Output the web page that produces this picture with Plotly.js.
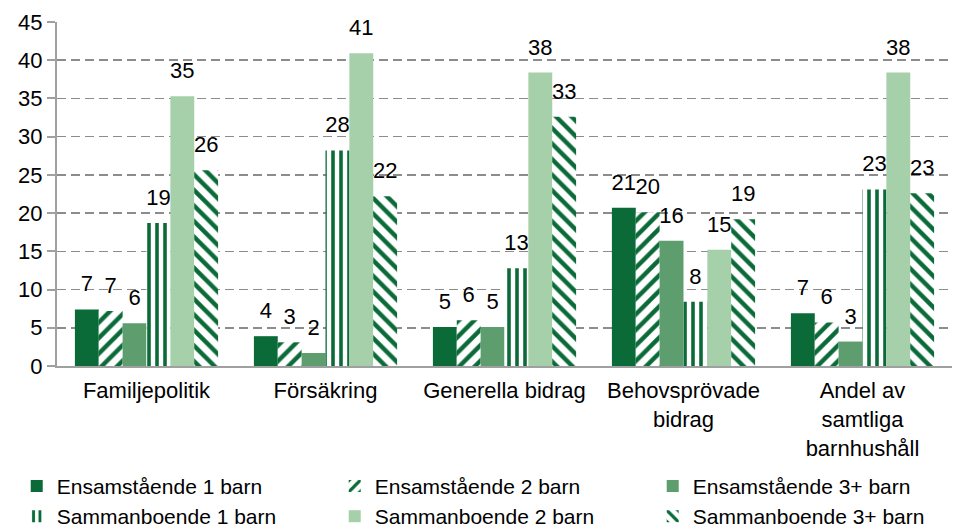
<!DOCTYPE html>
<html>
<head>
<meta charset="utf-8">
<script src="https://cdn.plot.ly/plotly-3.0.1.min.js"></script>
<style>html,body{margin:0;padding:0;background:#fff;}#chart{width:967px;height:531px;}</style>
</head>
<body>
<div id="chart"></div>
<script>
// ---- data ----
var categories = ['Familjepolitik', 'Försäkring', 'Generella bidrag', 'Behovsprövade<br>bidrag', 'Andel av<br>samtliga<br>barnhushåll'];
var seriesNames = ['Ensamstående 1 barn', 'Ensamstående 2 barn', 'Ensamstående 3+ barn', 'Sammanboende 1 barn', 'Sammanboende 2 barn', 'Sammanboende 3+ barn'];
var ensam1 = [7.4, 3.9, 5.1, 20.7, 6.9];
var ensam2 = [7.2, 3.1, 6.0, 20.1, 5.7];
var ensam3 = [5.6, 1.7, 5.1, 16.4, 3.2];
var samman1 = [18.7, 28.2, 12.8, 8.4, 23.1];
var samman2 = [35.3, 40.9, 38.4, 15.2, 38.4];
var samman3 = [25.6, 22.2, 32.6, 19.2, 22.6];
var yTicks = [0, 5, 10, 15, 20, 25, 30, 35, 40, 45];

// ---- styles ----
var DARK = '#0b6b38', MID = '#5e9e6e', LIGHT = '#a5d0aa';
var styles = [
  {color: DARK, shape: ''},
  {color: '#ffffff', shape: '/'},
  {color: MID, shape: ''},
  {color: '#ffffff', shape: '|'},
  {color: LIGHT, shape: ''},
  {color: '#ffffff', shape: '\\'}
];
var FONT = 'Liberation Sans, Arial, sans-serif';
var FS = 22;
var LEG_FS = 21;
var LABEL_PAD = 1.3; // gap (data units) between bar top and its label

var allSeries = [ensam1, ensam2, ensam3, samman1, samman2, samman3];
var traces = [];
allSeries.forEach(function (vals, i) {
  var st = styles[i];
  var marker = {color: st.color, line: {width: 0}};
  if (st.shape) {
    marker.pattern = {shape: st.shape, fgcolor: DARK, bgcolor: '#ffffff', size: st.shape === '|' ? 8 : 11, solidity: st.shape === '|' ? 0.45 : 0.4, fillmode: 'replace'};
  }
  traces.push({
    type: 'bar', name: seriesNames[i], x: categories, y: vals,
    offsetgroup: 'g' + i, marker: marker, hoverinfo: 'skip'
  });
  // invisible carrier bar for the value label, stacked on top of the real bar
  traces.push({
    type: 'bar', showlegend: false, x: categories,
    y: vals.map(function () { return LABEL_PAD; }),
    base: vals, offsetgroup: 'g' + i,
    marker: {color: 'rgba(0,0,0,0)', line: {width: 0}},
    text: vals.map(function (v) { return String(Math.round(v)); }),
    textposition: 'outside', constraintext: 'none', cliponaxis: false,
    textfont: {family: FONT, size: FS, color: '#000'},
    hoverinfo: 'skip'
  });
});

var layout = {
  width: 967, height: 531,
  margin: {l: 57, r: 15, t: 22, b: 164.5, autoexpand: false},
  paper_bgcolor: '#ffffff', plot_bgcolor: '#ffffff',
  barmode: 'group', bargap: 0.2, bargroupgap: 0,
  font: {family: FONT, size: FS, color: '#000'},
  showlegend: true,
  legend: {
    orientation: 'h', x: -0.045, xanchor: 'left', y: -0.29, yanchor: 'top',
    entrywidth: 273, entrywidthmode: 'pixels', itemwidth: 30,
    traceorder: 'normal',
    font: {family: FONT, size: LEG_FS, color: '#000'}
  },
  xaxis: {
    type: 'category', showgrid: false, zeroline: false, automargin: false,
    showline: true, linecolor: '#a0a0a0', linewidth: 2,
    ticks: '', tickfont: {family: FONT, size: FS, color: '#000'},
    ticklabelstandoff: 4
  },
  yaxis: {
    range: [0, 45], tickvals: yTicks, ticktext: yTicks.map(String), automargin: false,
    showgrid: true, gridcolor: '#8c8c8c', gridwidth: 1.5, griddash: '9px,5px',
    zeroline: false, showline: true, linecolor: '#a0a0a0', linewidth: 2,
    ticks: 'outside', ticklen: 8, tickcolor: '#a0a0a0', tickwidth: 2,
    tickfont: {family: FONT, size: FS, color: '#000'}
  }
};

Plotly.newPlot('chart', traces, layout, {displayModeBar: false, staticPlot: true});
</script>
</body>
</html>
